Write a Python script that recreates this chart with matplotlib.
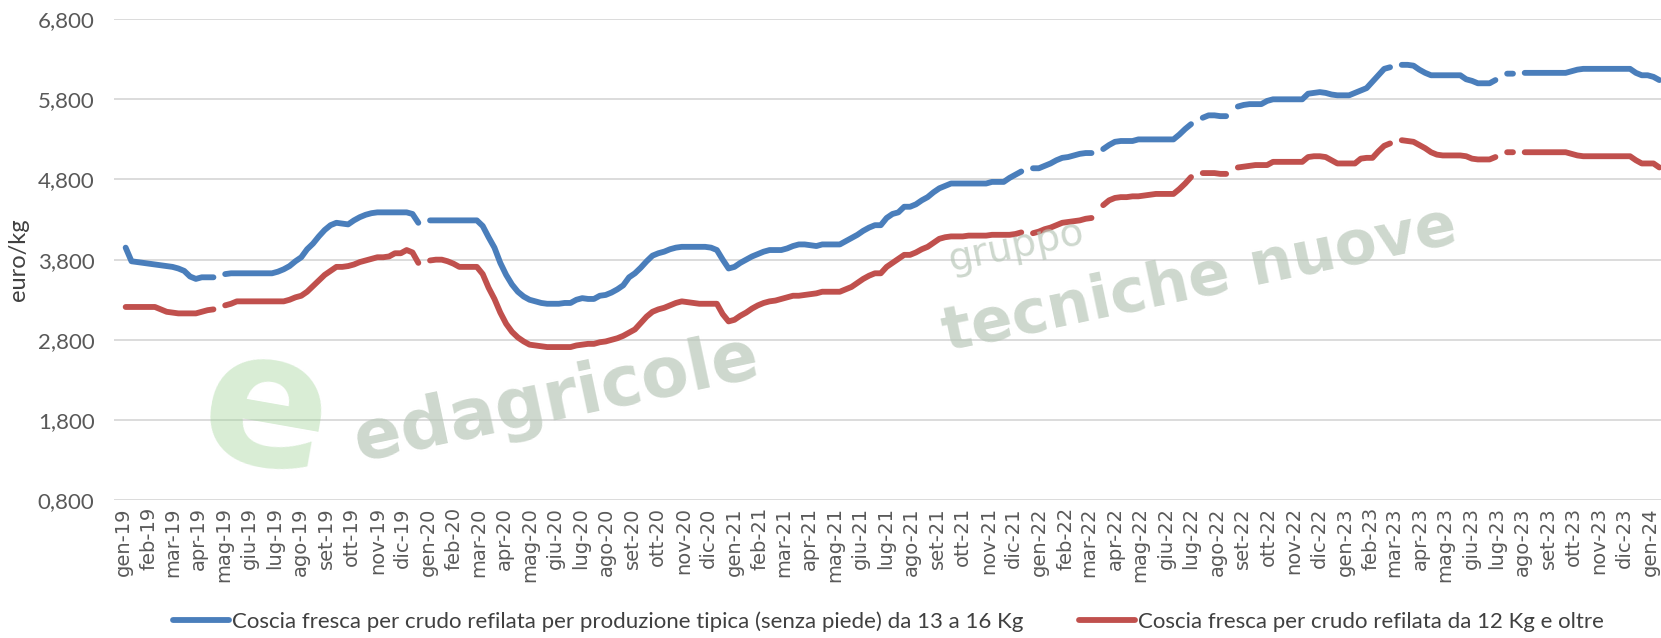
import matplotlib
matplotlib.use("Agg")
import matplotlib.pyplot as plt
import matplotlib.ticker as mticker
import pandas as pd
import numpy as np

N = None
# weekly prices, euro/kg (first week: 4 Jan 2019), None = missing week
blue_values = [
    3.95, 3.78, 3.77, 3.76, 3.75, 3.74, 3.73, 3.72, 3.71, 3.69, 3.66, 3.59, 3.56,
    3.58, 3.58, 3.58, N, 3.62, 3.63, 3.63, 3.63, 3.63, 3.63, 3.63, 3.63, 3.63,
    3.65, 3.68, 3.72, 3.78, 3.83, 3.93, 4.00, 4.09, 4.17, 4.23, 4.26, 4.25, 4.24,
    4.29, 4.33, 4.36, 4.38, 4.39, 4.39, 4.39, 4.39, 4.39, 4.39, 4.37, 4.26, N,
    4.29, 4.29, 4.29, 4.29, 4.29, 4.29, 4.29, 4.29, 4.29, 4.22, 4.08, 3.95, 3.76,
    3.61, 3.49, 3.40, 3.34, 3.30, 3.28, 3.26, 3.25, 3.25, 3.25, 3.26, 3.26, 3.30,
    3.32, 3.31, 3.31, 3.35, 3.36, 3.39, 3.43, 3.48, 3.58, 3.63, 3.70, 3.78, 3.85,
    3.88, 3.90, 3.93, 3.95, 3.96, 3.96, 3.96, 3.96, 3.96, 3.95, 3.92, 3.80, 3.69,
    3.71, 3.76, 3.80, 3.84, 3.87, 3.90, 3.92, 3.92, 3.92, 3.94, 3.97, 3.99, 3.99,
    3.98, 3.97, 3.99, 3.99, 3.99, 3.99, 4.03, 4.07, 4.11, 4.16, 4.20, 4.23, 4.23,
    4.32, 4.37, 4.39, 4.46, 4.46, 4.49, 4.54, 4.58, 4.64, 4.69, 4.72, 4.75, 4.75,
    4.75, 4.75, 4.75, 4.75, 4.75, 4.77, 4.77, 4.77, 4.82, 4.86, 4.90, N, 4.94,
    4.94, 4.97, 5.00, 5.04, 5.07, 5.08, 5.10, 5.12, 5.13, 5.13, N, 5.18, 5.23,
    5.27, 5.28, 5.28, 5.28, 5.30, 5.30, 5.30, 5.30, 5.30, 5.30, 5.30, 5.36, 5.43,
    5.49, N, 5.57, 5.60, 5.60, 5.59, 5.59, N, 5.71, 5.73, 5.74, 5.74, 5.74,
    5.78, 5.80, 5.80, 5.80, 5.80, 5.80, 5.80, 5.87, 5.88, 5.89, 5.88, 5.86, 5.85,
    5.85, 5.85, 5.88, 5.91, 5.94, 6.02, 6.10, 6.18, 6.20, N, 6.23, 6.23, 6.22,
    6.17, 6.13, 6.10, 6.10, 6.10, 6.10, 6.10, 6.10, 6.05, 6.03, 6.00, 6.00, 6.00,
    6.04, N, 6.12, 6.12, N, 6.13, 6.13, 6.13, 6.13, 6.13, 6.13, 6.13, 6.13,
    6.15, 6.17, 6.18, 6.18, 6.18, 6.18, 6.18, 6.18, 6.18, 6.18, 6.18, 6.13, 6.10,
    6.10, 6.08, 6.04,
]
red_values = [
    3.21, 3.21, 3.21, 3.21, 3.21, 3.21, 3.18, 3.15, 3.14, 3.13, 3.13, 3.13, 3.13,
    3.15, 3.17, 3.18, N, 3.23, 3.25, 3.28, 3.28, 3.28, 3.28, 3.28, 3.28, 3.28,
    3.28, 3.28, 3.30, 3.33, 3.35, 3.40, 3.47, 3.54, 3.61, 3.66, 3.71, 3.71, 3.72,
    3.74, 3.77, 3.79, 3.81, 3.83, 3.83, 3.84, 3.88, 3.88, 3.92, 3.89, 3.76, N,
    3.79, 3.80, 3.80, 3.78, 3.75, 3.71, 3.71, 3.71, 3.71, 3.62, 3.45, 3.31, 3.14,
    3.00, 2.90, 2.83, 2.78, 2.74, 2.73, 2.72, 2.71, 2.71, 2.71, 2.71, 2.71, 2.73,
    2.74, 2.75, 2.75, 2.77, 2.78, 2.80, 2.82, 2.85, 2.89, 2.93, 3.01, 3.09, 3.15,
    3.18, 3.20, 3.23, 3.26, 3.28, 3.27, 3.26, 3.25, 3.25, 3.25, 3.25, 3.12, 3.03,
    3.05, 3.10, 3.14, 3.19, 3.23, 3.26, 3.28, 3.29, 3.31, 3.33, 3.35, 3.35, 3.36,
    3.37, 3.38, 3.40, 3.40, 3.40, 3.40, 3.43, 3.46, 3.51, 3.56, 3.60, 3.63, 3.63,
    3.71, 3.76, 3.81, 3.86, 3.86, 3.89, 3.93, 3.96, 4.01, 4.06, 4.08, 4.09, 4.09,
    4.09, 4.10, 4.10, 4.10, 4.10, 4.11, 4.11, 4.11, 4.11, 4.12, 4.14, N, 4.13,
    4.15, 4.18, 4.20, 4.23, 4.26, 4.27, 4.28, 4.29, 4.31, 4.32, N, 4.48, 4.54,
    4.57, 4.58, 4.58, 4.59, 4.59, 4.60, 4.61, 4.62, 4.62, 4.62, 4.62, 4.68, 4.75,
    4.83, N, 4.88, 4.88, 4.88, 4.87, 4.87, N, 4.95, 4.96, 4.97, 4.98, 4.98,
    4.98, 5.02, 5.02, 5.02, 5.02, 5.02, 5.02, 5.08, 5.09, 5.09, 5.08, 5.04, 5.00,
    5.00, 5.00, 5.00, 5.06, 5.07, 5.07, 5.15, 5.22, 5.25, N, 5.29, 5.28, 5.27,
    5.23, 5.19, 5.14, 5.11, 5.10, 5.10, 5.10, 5.10, 5.09, 5.06, 5.05, 5.05, 5.05,
    5.08, N, 5.14, 5.14, N, 5.14, 5.14, 5.14, 5.14, 5.14, 5.14, 5.14, 5.14,
    5.12, 5.10, 5.09, 5.09, 5.09, 5.09, 5.09, 5.09, 5.09, 5.09, 5.09, 5.04, 5.00,
    5.00, 5.00, 4.95,
]

series_names = [
    "Coscia fresca per crudo refilata per produzione tipica (senza piede) da 13 a 16 Kg",
    "Coscia fresca per crudo refilata da 12 Kg e oltre",
]
month_abbr = ["gen", "feb", "mar", "apr", "mag", "giu", "lug", "ago", "set", "ott", "nov", "dic"]
y_ticks = [0.8, 1.8, 2.8, 3.8, 4.8, 5.8, 6.8]

dates = pd.date_range("2019-01-04", periods=len(blue_values), freq="7D")
month_ticks = pd.date_range("2019-01-01", "2024-01-01", freq="MS")
tick_labels = [f"{month_abbr[d.month - 1]}-{d.year % 100:02d}" for d in month_ticks]

blue = np.array([np.nan if v is None else v for v in blue_values], dtype=float)
red = np.array([np.nan if v is None else v for v in red_values], dtype=float)

fig = plt.figure(figsize=(16.61, 6.38), dpi=100)
ax = fig.add_axes([0.0686, 0.216, 0.9314, 0.754])

c_blue = "#4a7ebb"
c_red = "#c0504d"
ax.plot(dates, blue, color=c_blue, lw=4.2, solid_capstyle="round", solid_joinstyle="round",
        label=series_names[0], zorder=3)
ax.plot(dates, red, color=c_red, lw=4.2, solid_capstyle="round", solid_joinstyle="round",
        label=series_names[1], zorder=3)

ax.set_ylim(0.8, 6.8)
ax.set_yticks(y_ticks)
ax.yaxis.set_major_formatter(mticker.FuncFormatter(lambda v, p: f"{v:.3f}".replace(".", ",")))
ax.set_xlim(pd.Timestamp("2018-12-21"), pd.Timestamp("2024-01-14"))
ax.set_xticks(month_ticks)
ax.set_xticklabels(tick_labels, rotation=90, fontsize=14, color="#595959",
                   family="DejaVu Sans")
for lab in ax.get_yticklabels():
    lab.set_fontfamily("Lato")
    lab.set_fontsize(16)
    lab.set_color("#595959")
ax.tick_params(axis="x", length=0, pad=5)
ax.tick_params(axis="y", length=0, pad=14)
ax.grid(axis="y", color="#d9d9d9", lw=1.3, zorder=0)
ax.set_axisbelow(True)
for s in ax.spines.values():
    s.set_visible(False)
ax.set_ylabel("euro/kg", fontsize=17, family="Lato", color="#404040", labelpad=6)

leg = fig.legend(loc="lower center", bbox_to_anchor=(0.535, -0.022), ncol=2, frameon=False,
                 prop={"family": "Lato", "size": 16}, handlelength=2.5, handletextpad=0.15,
                 columnspacing=2.5, labelcolor="#404040")

# watermark
wm = "#b9c7b9"
fig.text(0.335, 0.375, "edagricole", fontsize=50, fontweight="bold", family="DejaVu Sans",
         color=wm, alpha=0.7, rotation=12, ha="center", va="center", zorder=10)
fig.text(0.16, 0.35, "e", fontsize=135, fontweight="bold", family="DejaVu Sans",
         color="#9fd296", alpha=0.4, rotation=-10, ha="center", va="center", zorder=10)
fig.text(0.612, 0.615, "gruppo", fontsize=28, family="DejaVu Sans",
         color=wm, alpha=0.7, rotation=12, ha="center", va="center", zorder=10)
fig.text(0.722, 0.56, "tecniche nuove", fontsize=44, fontweight="bold", family="DejaVu Sans",
         color=wm, alpha=0.7, rotation=12, ha="center", va="center", zorder=10)

fig.savefig("out.png", dpi=100)
